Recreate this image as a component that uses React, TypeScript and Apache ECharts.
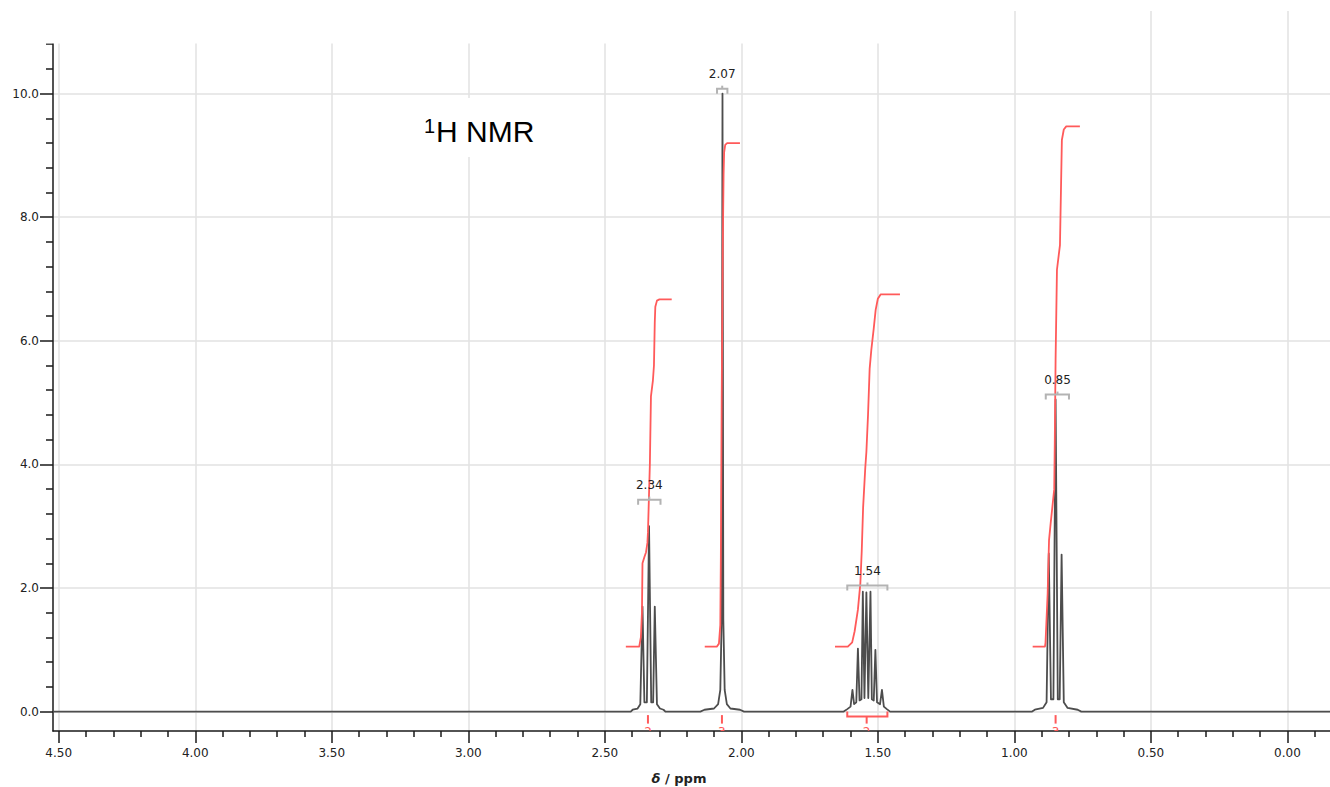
import React, { useEffect, useRef } from 'react';
import * as echarts from 'echarts';

// Axis ranges (ppm axis is reversed)
const X_MIN = -0.156;
const X_MAX = 4.521;
const Y_MIN = -0.314;
const Y_MAX = 11.337;

const X_MAJOR = [4.5, 4.0, 3.5, 3.0, 2.5, 2.0, 1.5, 1.0, 0.5, 0.0];
const X_MINOR = [4.4, 4.3, 4.2, 4.1, 3.9, 3.8, 3.7, 3.6, 3.4, 3.3, 3.2, 3.1, 2.9, 2.8, 2.7, 2.6, 2.4, 2.3, 2.2, 2.1, 1.9, 1.8, 1.7, 1.6, 1.4, 1.3, 1.2, 1.1, 0.9, 0.8, 0.7, 0.6, 0.4, 0.3, 0.2, 0.1, -0.1];
const Y_MAJOR = [0, 2, 4, 6, 8, 10];
const Y_MINOR = [0.4, 0.8, 1.2, 1.6, 2.4, 2.8, 3.2, 3.6, 4.4, 4.8, 5.2, 5.6, 6.4, 6.8, 7.2, 7.6, 8.4, 8.8, 9.2, 9.6, 10.4, 10.8];

// Spectrum: [ppm, intensity]
const SPECTRUM: [number, number][] = [
  [4.521, 0],
  [2.405, 0], [2.398, 0.03], [2.380, 0.05], [2.370, 0.12], [2.362, 1.70], [2.355, 0.15], [2.346, 0.15],
  [2.338, 3.0], [2.330, 0.15], [2.323, 0.15], [2.317, 1.70], [2.309, 0.12], [2.298, 0.05], [2.285, 0.03], [2.278, 0],
  [2.150, 0], [2.135, 0.03], [2.100, 0.05], [2.085, 0.12], [2.077, 0.35], [2.072, 1.5], [2.069, 10.0],
  [2.066, 1.5], [2.061, 0.35], [2.053, 0.12], [2.040, 0.05], [2.005, 0.03], [1.990, 0],
  [1.625, 0], [1.612, 0.04], [1.600, 0.08], [1.593, 0.35], [1.587, 0.12], [1.579, 0.15], [1.573, 1.02],
  [1.567, 0.18], [1.560, 0.2], [1.555, 1.94], [1.549, 0.22], [1.542, 1.93], [1.535, 0.22], [1.527, 1.94],
  [1.522, 0.2], [1.515, 0.18], [1.509, 1.0], [1.503, 0.15], [1.492, 0.12], [1.485, 0.35], [1.478, 0.08],
  [1.467, 0.04], [1.455, 0],
  [0.935, 0], [0.925, 0.03], [0.895, 0.06], [0.882, 0.15], [0.874, 2.56], [0.866, 0.2], [0.857, 0.2],
  [0.849, 5.05], [0.841, 0.2], [0.834, 0.2], [0.827, 2.54], [0.819, 0.15], [0.805, 0.06], [0.768, 0.03], [0.755, 0],
  [-0.156, 0],
];

// Integral curves: [ppm, value]
const INTEGRAL_1: [number, number][] = [
  [2.423, 1.05], [2.374, 1.05], [2.368, 1.2], [2.364, 1.6], [2.362, 2.4], [2.355, 2.5], [2.349, 2.58], [2.344, 2.73],
  [2.342, 2.9], [2.335, 4.0], [2.331, 5.1], [2.324, 5.35], [2.320, 5.6], [2.317, 6.3], [2.315, 6.55], [2.309, 6.65],
  [2.300, 6.67], [2.255, 6.67],
];
const INTEGRAL_2: [number, number][] = [
  [2.134, 1.05], [2.090, 1.05], [2.082, 1.1], [2.077, 1.4], [2.075, 2.5], [2.072, 5.0], [2.068, 7.5], [2.065, 8.7],
  [2.063, 9.05], [2.059, 9.17], [2.052, 9.2], [2.005, 9.2],
];
const INTEGRAL_3: [number, number][] = [
  [1.657, 1.05], [1.610, 1.05], [1.594, 1.12], [1.585, 1.3], [1.573, 1.65], [1.564, 2.08], [1.559, 2.6], [1.554, 3.3],
  [1.546, 3.95], [1.542, 4.2], [1.536, 4.8], [1.530, 5.55], [1.524, 5.85], [1.515, 6.2], [1.508, 6.5], [1.500, 6.68],
  [1.490, 6.75], [1.419, 6.75],
];
const INTEGRAL_4: [number, number][] = [
  [0.933, 1.05], [0.888, 1.05], [0.886, 1.11], [0.878, 1.92], [0.873, 2.78], [0.867, 3.05], [0.858, 3.43], [0.854, 3.6],
  [0.852, 4.35], [0.849, 5.7], [0.844, 7.15], [0.833, 7.55], [0.826, 9.25], [0.819, 9.42], [0.810, 9.47], [0.760, 9.47],
];
const INTEGRALS = [INTEGRAL_1, INTEGRAL_2, INTEGRAL_3, INTEGRAL_4];

// Peak picking labels
const PEAK_LABELS = ['2.34', '2.07', '1.54', '0.85'];
const PEAK_CENTER = [2.337, 2.070, 1.538, 0.842];
const PEAK_LEFT = [2.378, 2.089, 1.612, 0.885];
const PEAK_RIGHT = [2.296, 2.051, 1.465, 0.800];
const PEAK_LEVEL = [3.43, 10.08, 2.04, 5.13];

// Integration values
const INT_LABELS = ['2', '3', '2', '3'];
const INT_CENTER = [2.342, 2.071, 1.541, 0.849];
const INT_LEFT = [2.342, 2.071, 1.612, 0.849];
const INT_RIGHT = [2.342, 2.071, 1.465, 0.849];

const AXIS_COLOR = '#1a1a1a';
const GRID_COLOR = '#e2e2e2';
const RED = '#ff5a5a';
const FONT = '"DejaVu Sans", Verdana, sans-serif';

export default function App() {
  const ref = useRef<HTMLDivElement>(null);

  useEffect(() => {
    if (!ref.current) return;
    const chart = echarts.init(ref.current, null, { renderer: 'svg' });

    const peakData = PEAK_LABELS.map((_, i) => [PEAK_CENTER[i], PEAK_LEVEL[i], PEAK_LEFT[i], PEAK_RIGHT[i]]);
    const intData = INT_LABELS.map((_, i) => [INT_CENTER[i], 0, INT_LEFT[i], INT_RIGHT[i]]);

    const option: any = {
      animation: false,
      backgroundColor: '#ffffff',
      grid: { left: 53, right: 0, top: 11, bottom: 56, containLabel: false },
      xAxis: [
        {
          type: 'value', position: 'bottom', min: X_MIN, max: X_MAX, inverse: true,
          axisLine: { show: true, onZero: false, lineStyle: { color: AXIS_COLOR, width: 1.5 } },
          axisTick: { show: true, customValues: X_MAJOR, length: 12, lineStyle: { color: AXIS_COLOR, width: 1.5 } },
          axisLabel: {
            show: true, customValues: X_MAJOR, margin: 16, fontSize: 12, fontFamily: FONT, color: '#222',
            formatter: (v: number) => v.toFixed(2),
          },
          splitLine: { show: true, lineStyle: { color: GRID_COLOR, width: 1.5 } },
        },
        {
          type: 'value', position: 'bottom', min: X_MIN, max: X_MAX, inverse: true,
          axisLine: { show: false, onZero: false },
          axisTick: { show: true, customValues: X_MINOR, length: 6, lineStyle: { color: AXIS_COLOR, width: 1.5 } },
          axisLabel: { show: false },
          splitLine: { show: false },
        },
      ],
      yAxis: [
        {
          type: 'value', position: 'left', min: Y_MIN, max: Y_MAX,
          axisLine: { show: true, onZero: false, lineStyle: { color: AXIS_COLOR, width: 1.5 } },
          axisTick: { show: true, customValues: Y_MAJOR, length: 13, lineStyle: { color: AXIS_COLOR, width: 1.5 } },
          axisLabel: {
            show: true, customValues: Y_MAJOR, margin: 14, fontSize: 12, fontFamily: FONT, color: '#222',
            formatter: (v: number) => v.toFixed(1),
          },
          splitLine: { show: true, lineStyle: { color: GRID_COLOR, width: 1.5 } },
        },
        {
          type: 'value', position: 'left', min: Y_MIN, max: Y_MAX,
          axisLine: { show: false, onZero: false },
          axisTick: { show: true, customValues: Y_MINOR, length: 7, lineStyle: { color: AXIS_COLOR, width: 1.5 } },
          axisLabel: { show: false },
          splitLine: { show: false },
        },
      ],
      series: [
        {
          type: 'line', name: 'spectrum', data: SPECTRUM, xAxisIndex: 0, yAxisIndex: 0,
          showSymbol: false, symbol: 'none', silent: true, z: 3,
          lineStyle: { color: '#4d4d4d', width: 1.8, join: 'round' },
        },
        ...INTEGRALS.map((d, k) => ({
          type: 'line', name: 'integral' + k, data: d, xAxisIndex: 0, yAxisIndex: 0,
          showSymbol: false, symbol: 'none', silent: true, z: 4,
          lineStyle: { color: RED, width: 1.8, join: 'round' },
        })),
        {
          type: 'custom', name: 'peaks', xAxisIndex: 0, yAxisIndex: 0, z: 5, silent: true,
          data: peakData, encode: { x: [0, 2, 3], y: 1 },
          renderItem: (params: any, api: any) => {
            const i = params.dataIndex;
            const lv = api.value(1);
            const c = api.coord([api.value(0), lv]);
            const l = api.coord([api.value(2), lv]);
            const r = api.coord([api.value(3), lv]);
            const st = { stroke: '#b3b3b3', lineWidth: 2, fill: null };
            return {
              type: 'group',
              children: [
                { type: 'polyline', shape: { points: [[l[0], l[1] + 5], [l[0], l[1]], [r[0], r[1]], [r[0], r[1] + 5]] }, style: st },
                { type: 'line', shape: { x1: c[0], y1: c[1], x2: c[0], y2: c[1] - 3 }, style: st },
                {
                  type: 'text',
                  style: {
                    text: PEAK_LABELS[i], x: c[0], y: c[1] - 15, align: 'center', verticalAlign: 'middle',
                    fontSize: 12, fontFamily: FONT, fill: '#222',
                  },
                },
              ],
            };
          },
        },
        {
          type: 'custom', name: 'integrals', xAxisIndex: 0, yAxisIndex: 0, z: 5, silent: true, clip: true,
          data: intData, encode: { x: [0, 2, 3], y: 1 },
          renderItem: (params: any, api: any) => {
            const i = params.dataIndex;
            const c = api.coord([api.value(0), 0]);
            const l = api.coord([api.value(2), 0]);
            const r = api.coord([api.value(3), 0]);
            const st = { stroke: RED, lineWidth: 2, fill: null };
            const children: any[] = [];
            if (Math.abs(r[0] - l[0]) > 1) {
              children.push({ type: 'polyline', shape: { points: [[l[0], l[1]], [l[0], l[1] + 5], [r[0], r[1] + 5], [r[0], r[1]]] }, style: st });
              children.push({ type: 'line', shape: { x1: c[0], y1: c[1] + 5, x2: c[0], y2: c[1] + 12 }, style: st });
            } else {
              children.push({ type: 'line', shape: { x1: c[0], y1: c[1] + 3.5, x2: c[0], y2: c[1] + 12 }, style: st });
            }
            children.push({
              type: 'text',
              style: {
                text: INT_LABELS[i], x: c[0], y: c[1] + 14.5, align: 'center', verticalAlign: 'top',
                fontSize: 12, fontFamily: FONT, fill: RED,
              },
            });
            return { type: 'group', children };
          },
        },
      ],
      graphic: [
        { type: 'rect', shape: { x: 0, y: 0, width: 960, height: 43.5 }, style: { fill: '#ffffff' }, z: 100, silent: true },
        { type: 'rect', shape: { x: 414, y: 98, width: 134, height: 59 }, style: { fill: '#ffffff' }, z: 100, silent: true },
        {
          type: 'text', x: 436, y: 131, z: 101, silent: true,
          style: { text: 'H NMR', font: '30px "Liberation Sans", Arial, sans-serif', fill: '#000', verticalAlign: 'middle' },
        },
        {
          type: 'text', x: 424, y: 126, z: 101, silent: true,
          style: { text: '1', font: '20px "Liberation Sans", Arial, sans-serif', fill: '#000', verticalAlign: 'middle' },
        },
        {
          type: 'text', x: 679, y: 778, z: 101, silent: true,
          style: {
            text: '{d|δ} / ppm', align: 'center', verticalAlign: 'middle',
            font: 'bold 13px "DejaVu Sans", Verdana, sans-serif', fill: '#222',
            rich: { d: { fontStyle: 'italic', fontWeight: 'bold', fontSize: 13, fontFamily: FONT, fill: '#222' } },
          },
        },
      ],
    };

    chart.setOption(option);
    return () => chart.dispose();
  }, []);

  return (
    <div
      ref={ref}
      style={{ position: 'fixed', left: 0, top: 0, width: 1330, height: 787, background: '#ffffff' }}
    />
  );
}
